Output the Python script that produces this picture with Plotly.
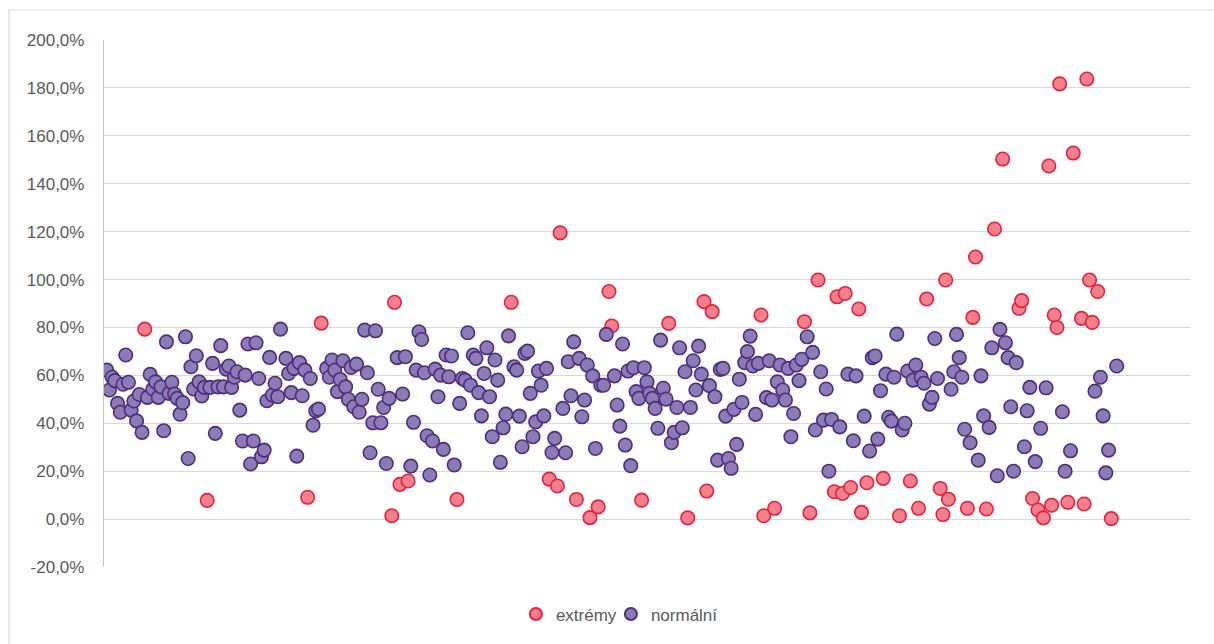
import plotly.graph_objects as go

# ---- data (observation index, value in %) ----
normal_x = [1,2,3,4,5,6,7,8,9,10,11,12,13,14,16,17,18,19,20,21,22,23,24,25,26,27,28,29,30,31,32,33,34,35,36,37,39,40,41,42,43,44,45,46,47,48,49,50,51,52,53,54,55,56,57,58,59,60,61,62,63,64,65,67,68,69,70,71,72,73,74,76,77,78,79,82,83,84,85,86,87,88,89,90,91,92,93,94,95,96,97,98,99,100,101,102,103,104,105,108,110,111,113,114,115,116,117,118,119,120,121,122,123,124,125,126,127,128,129,131,132,133,134,135,136,137,138,139,140,141,142,143,144,145,146,147,148,149,151,152,153,154,155,156,157,158,159,160,161,162,163,165,166,169,170,171,172,173,175,176,177,178,180,181,183,184,185,188,189,190,191,192,193,194,195,196,197,199,200,201,202,203,204,205,206,207,209,210,211,212,213,214,216,217,218,219,220,223,225,226,227,228,229,230,231,232,233,234,235,236,237,238,239,240,241,244,245,246,248,249,250,251,252,253,254,255,256,257,259,261,262,264,265,266,267,268,271,274,276,277,280,282,283,284,285,286,288,289,290,291,292,294,295,296,298,299,301,302,304,305,306,307,312,313,314,315,316,317,319,322,323,324,326,327,329,330,332,333,334,335,336,339,340,341,343,345,347,353,354,356,365,367,368,369,370,373]
normal_y = [62.2,53.9,59.2,57.8,48.3,44.6,56.3,68.5,57.1,45.5,49.3,41,52,36.2,50.8,60.4,54.3,57.3,50.8,55.2,36.9,74,52.5,57.1,52.2,50.4,43.8,48.6,76.1,25.3,63.6,54.3,68.2,57.3,51.4,55,55,65,35.8,55.2,72.4,55.2,62.6,63.9,55,59.2,61.5,45.5,32.6,60.1,73.1,23,32.6,73.6,58.7,26,28.8,49.4,67.5,51.8,56.7,51.1,79.3,67.1,60.8,52.8,62.9,26.3,65.3,51.5,62.2,58.7,39.2,45.2,45.9,62.9,59.2,66.4,62.2,53.2,58.3,66.1,55.2,50,63.3,46.9,64.7,44.6,50,78.9,61.1,27.7,40.2,78.6,54.2,40.2,46.6,23.2,50.4,67.4,52.2,67.8,22.1,40.4,62.2,78.2,75,61.1,34.8,18.4,32.6,62.6,51.1,60.1,29.1,68.5,59.4,68.1,22.6,48.3,58.7,58,77.8,55.9,68.5,67.1,52.8,43.1,60.8,71.5,51.1,34.4,66.4,58,23.7,38.1,43.8,76.5,63.6,62.2,43,30.2,69.2,70.1,52.5,34.4,40.6,61.8,55.9,43.1,62.9,27.8,33.7,46.2,27.7,65.7,51.5,74,67.1,42.7,49.7,64.3,59.8,29.5,55.9,55.9,77.1,59.8,47.6,38.8,73.1,30.9,61.8,22.3,63.2,53.2,50.4,63.2,57.3,52.5,50.4,46.2,37.9,74.7,54.6,50.1,31.9,36.2,46.6,71.5,38.1,61.5,46.6,66.1,53.9,72.2,60.5,55.7,51.1,24.6,62.5,62.9,43,25.3,21.2,45.8,31.2,58.4,48.7,65.3,69.9,76.4,63.9,43.7,65,50.7,66.1,49.7,57.3,64.3,53.9,49.7,62.9,34.4,44.1,64.3,57.8,66.7,76.1,69.6,37.2,61.5,41.3,54.3,20,41.6,38.5,60.5,32.7,59.8,43,28.4,67.4,68.1,33.4,53.6,60.5,42.5,40.9,59.2,77.2,37.2,40,61.8,58,64.3,59.2,56.7,48,50.8,75.4,58.7,54.2,61.5,77.1,67.4,59.2,37.5,31.9,24.6,59.8,43.1,38.3,71.5,18.1,79.2,73.6,67.4,46.9,20,65.3,30.2,45.2,55,24,37.9,54.8,44.8,20,28.5,53.4,59.2,43.1,19.3,28.8,63.9]

extreme_x = [15,38,75,80,106,107,109,112,130,150,164,167,168,174,179,182,186,187,198,208,215,221,222,224,242,243,247,258,260,263,269,270,272,273,275,278,279,281,287,293,297,300,303,308,309,310,311,318,320,321,325,328,331,337,338,342,344,346,348,349,350,351,352,355,357,360,361,362,363,364,366,371]
extreme_y = [79.3,7.8,9.1,81.8,1.4,90.5,14.5,15.9,8.2,90.5,16.7,13.8,119.5,8.2,0.6,5.1,95,80.6,7.9,81.7,0.5,90.8,11.7,86.6,85.2,1.4,4.5,82.4,2.6,99.8,11.4,92.8,10.7,94.2,13.2,87.7,2.8,15.2,17,1.4,15.9,4.5,91.9,12.8,1.9,99.8,8.3,4.5,84.2,109.4,4.2,121.1,150.3,88,91.2,8.6,3.8,0.5,147.4,5.8,85.2,80,181.7,7,152.8,83.8,6.3,183.7,99.8,82.1,95,0.2]

series_names = ["extrémy", "normální"]
y_ticks = list(range(-20, 201, 20))
y_tick_text = [f"{v},0%" for v in y_ticks]

FONT = "Liberation Sans, Arial, sans-serif"
TXT = "#595959"

fig = go.Figure()
fig.add_trace(go.Scatter(
    x=extreme_x, y=extreme_y, mode="markers", name=series_names[0],
    marker=dict(size=13.5, color="#F2808E", line=dict(color="#E8203A", width=1.6)),
))
fig.add_trace(go.Scatter(
    x=normal_x, y=normal_y, mode="markers", name=series_names[1],
    marker=dict(size=13.5, color="#8D7BB5", line=dict(color="#4E2C80", width=1.6)),
))
# empty spacer entry so the legend's fixed-width entries do not clip the last label
fig.add_trace(go.Scatter(
    x=[None], y=[None], mode="markers", name=" ", hoverinfo="skip",
    marker=dict(size=1, color="rgba(0,0,0,0)", line=dict(width=0)),
))

fig.update_layout(
    width=1214, height=644,
    margin=dict(l=104, r=24, t=40, b=77),
    paper_bgcolor="white", plot_bgcolor="white",
    font=dict(family=FONT, size=17, color=TXT),
    showlegend=True,
    legend=dict(orientation="h", x=0.5105, xanchor="center", y=-0.09, yanchor="middle",
                font=dict(family=FONT, size=17, color=TXT), itemsizing="constant",
                entrywidth=50, entrywidthmode="pixels", itemclick=False, itemdoubleclick=False,
                traceorder="normal", bgcolor="rgba(0,0,0,0)"),
    xaxis=dict(range=[0, 400], showticklabels=False, showgrid=False, zeroline=False,
               showline=False, ticks=""),
    yaxis=dict(range=[-20, 200], tickmode="array", tickvals=y_ticks, ticktext=y_tick_text,
               showgrid=True, gridcolor="#D9D9D9", gridwidth=1.3, zeroline=False,
               showline=True, linecolor="#C8C8C8", linewidth=1.3,
               ticks="outside", ticklen=15, tickcolor="rgba(0,0,0,0)",
               tickfont=dict(family=FONT, size=17, color=TXT)),
    shapes=[dict(type="rect", xref="paper", yref="paper",
                 x0=(9 - 104) / 1086, x1=1.1, y0=-0.4, y1=1 + 30 / 527,
                 line=dict(color="#D9D9D9", width=1.2), fillcolor="rgba(0,0,0,0)", layer="below")],
)

fig.write_html("out.html", config={"displayModeBar": False},
               post_script="document.body.style.margin='0';")
